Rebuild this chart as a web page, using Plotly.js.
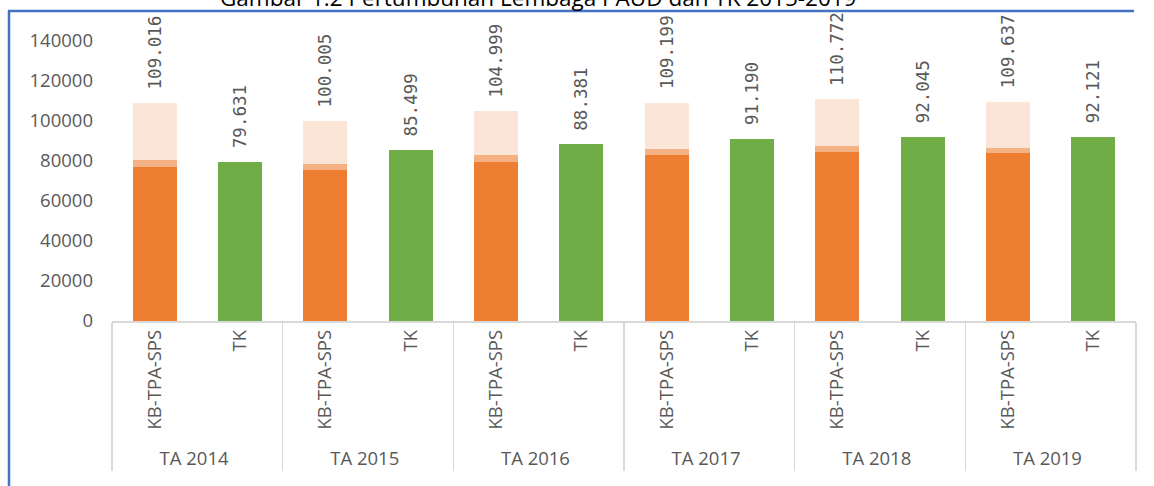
<!DOCTYPE html>
<html><head><meta charset="utf-8">
<script src="https://cdn.plot.ly/plotly-3.0.1.min.js"></script>
<style>html,body{margin:0;padding:0;background:#fff;} #chart{width:1154px;height:486px;}</style>
</head><body><div id="chart"></div>
<script>
const years = ["TA 2014","TA 2015","TA 2016","TA 2017","TA 2018","TA 2019"];
const kbLabel = "KB-TPA-SPS";
const tkLabel = "TK";
const kbTotal = [109016,100005,104999,109199,110772,109637];
const kbPart1 = [76900,75600,79600,82800,84300,83950];
const kbPart2 = [3380,2680,3200,3350,3150,2700];
const tkTotal = [79631,85499,88381,91190,92045,92121];
const chartTitle = 'Gambar 1.2 Pertumbuhan Lembaga PAUD dan TK 2015-2019';

const fmt = v => String(v).replace(/\B(?=(\d{3})+(?!\d))/g, '.');
const kbPart3 = kbTotal.map((t,i) => t - kbPart1[i] - kbPart2[i]);
const kbX = [years, years.map(() => kbLabel)];
const tkX = [years, years.map(() => tkLabel)];
const labelFont = {family:'DejaVu Sans Mono', size:17.5, color:'#595959'};

const traces = [
  {type:'bar', x:kbX, y:kbPart1, marker:{color:'#ED7D31'}, hoverinfo:'skip'},
  {type:'bar', x:kbX, y:kbPart2, marker:{color:'#F4B183'}, hoverinfo:'skip'},
  {type:'bar', x:kbX, y:kbPart3, marker:{color:'#FBE5D6'}, hoverinfo:'skip',
   text:kbTotal.map(v => '\u00a0' + fmt(v)), textposition:'outside', textangle:-90,
   cliponaxis:false, constraintext:'none', outsidetextfont:labelFont, textfont:labelFont},
  {type:'bar', x:tkX, y:tkTotal, marker:{color:'#70AD47'}, hoverinfo:'skip',
   text:tkTotal.map(v => '\u00a0' + fmt(v)), textposition:'outside', textangle:-90,
   cliponaxis:false, constraintext:'none', outsidetextfont:labelFont, textfont:labelFont}
];

const L = 112, T = 41, W = 1024, H = 280;
const px = x => (x - L) / W;
const py = y => (T + H - y) / H;

const layout = {
  width:1154, height:486,
  margin:{l:112, r:18, t:41, b:165},
  barmode:'stack', bargap:0.485,
  showlegend:false,
  paper_bgcolor:'#fff', plot_bgcolor:'#fff',
  font:{family:'Open Sans', size:18.5, color:'#595959'},
  annotations:[
    {text:chartTitle, xref:'paper', yref:'paper', x:px(538), y:py(0), xanchor:'center', yanchor:'middle',
     yshift:3, showarrow:false, font:{family:'Open Sans', size:22.5, color:'#000'}}
  ],
  xaxis:{type:'multicategory', tickangle:-90, showline:true, linecolor:'#d9d9d9', linewidth:1.5,
         showdividers:true, dividercolor:'#d9d9d9', dividerwidth:1.5,
         ticks:'outside', ticklen:6, tickcolor:'rgba(0,0,0,0)', showgrid:false,
         tickfont:{family:'Open Sans', size:18.5, color:'#595959'}},
  yaxis:{range:[0,140000], dtick:20000, tickformat:'d', showgrid:false, zeroline:false,
         showline:false, ticks:'', ticklabelstandoff:18,
         tickfont:{family:'Open Sans', size:18.5, color:'#595959'}},
  shapes:[
    {type:'line', xref:'paper', yref:'paper', x0:px(9), x1:px(9), y0:py(11), y1:py(490), line:{color:'#4472C4', width:2.5}},
    {type:'line', xref:'paper', yref:'paper', x0:px(8), x1:px(1134), y0:py(11), y1:py(11), line:{color:'#4472C4', width:2.5}}
  ]
};

Plotly.newPlot('chart', traces, layout, {staticPlot:true, displayModeBar:false});
</script>
</body></html>
